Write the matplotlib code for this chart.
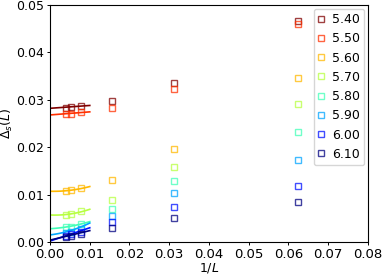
import numpy as np
import matplotlib
matplotlib.use("Agg")
import matplotlib.pyplot as plt
from matplotlib import cm

# 1/L values (L = 16, 32, 64, 128, 192, 256)
inv_L = [1/16, 1/32, 1/64, 1/128, 1/192, 1/256]

labels = ["5.40", "5.50", "5.60", "5.70", "5.80", "5.90", "6.00", "6.10"]

# Delta_s(L) per label, same order as inv_L
d540 = [0.0467, 0.0335, 0.0297, 0.0287, 0.0284, 0.0283]
d550 = [0.0460, 0.0323, 0.0282, 0.0274, 0.0270, 0.0269]
d560 = [0.0346, 0.0196, 0.0131, 0.0113, 0.0109, 0.0108]
d570 = [0.0291, 0.0158, 0.0089, 0.0065, 0.0060, 0.0058]
d580 = [0.0232, 0.0129, 0.0069, 0.0038, 0.0032, 0.0031]
d590 = [0.0172, 0.0103, 0.0055, 0.0028, 0.0022, 0.0019]
d600 = [0.0118, 0.0074, 0.0042, 0.0022, 0.0016, 0.0013]
d610 = [0.0084, 0.0050, 0.0030, 0.0017, 0.0013, 0.0011]
dados = [d540, d550, d560, d570, d580, d590, d600, d610]

# fit curves y = a + b*x + c*x^2, drawn on 0 <= 1/L <= 0.01
fit_a = [0.0282, 0.0268, 0.0107, 0.0057, 0.0028, 0.0015, 0.0002, 0.0004]
fit_b = [0.06, 0.065, -0.02, -0.04, 0.05, 0.10, 0.28, 0.20]
fit_c = [0.0, 0.0, 12.0, 16.0, 10.0, 15.0, 0.0, 0.0]

cores = cm.jet(np.linspace(1, 0, len(labels)))

plt.rcParams['font.size'] = 9
fig = plt.figure(figsize=(3.82, 2.75), dpi=100)
ax = fig.add_axes([0.131, 0.12, 0.832, 0.862])

xf = np.linspace(0, 0.01, 50)
for i in range(len(labels)):
    ax.plot(xf, fit_a[i] + fit_b[i]*xf + fit_c[i]*xf**2, color=cores[i], lw=1.2)
    ax.plot(inv_L, dados[i], 's', mfc='none', mec=cores[i], ms=5, mew=1,
            alpha=0.75, label=labels[i])

ax.set_xlim(0, 0.08)
ax.set_ylim(0, 0.05)
ax.set_xticks(np.arange(0, 0.081, 0.01))
ax.set_yticks(np.arange(0, 0.051, 0.01))
ax.tick_params(length=2.5, width=0.7, pad=1.5)
ax.tick_params(axis='x', labelsize=9.5)
ax.set_xlabel(r'$1/L$', labelpad=0, fontsize=9)
ax.set_ylabel(r'$\Delta_s(L)$', labelpad=1, fontsize=9)
ax.legend(loc='upper right', handlelength=0.5, handletextpad=0.6,
          labelspacing=0.5, borderpad=0.35, borderaxespad=0.3, fontsize=9)

fig.savefig('out.png')
